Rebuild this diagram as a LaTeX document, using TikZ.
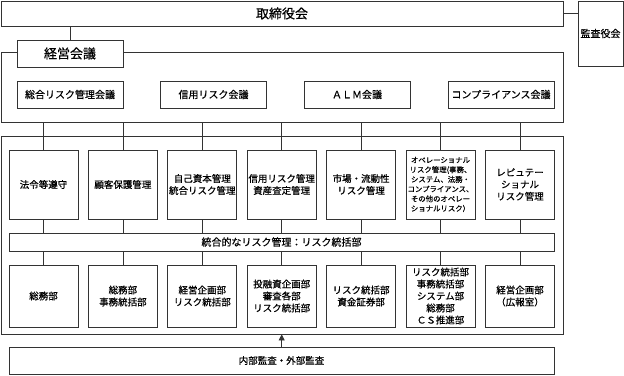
\documentclass[tikz,border=0pt]{standalone}
\usepackage{fontspec}
\setmainfont{Noto Sans CJK JP}[FakeBold=0.6]
\usetikzlibrary{arrows.meta}
\begin{document}
\begin{tikzpicture}[x=1pt,y=-1pt,
  ln/.style={draw=black!80,line width=0.8pt},
  bx/.style={ln,fill=white,inner sep=0pt,align=center,font=\fontsize{9.5}{12}\selectfont},
  frm/.style={ln,inner sep=0pt,minimum width=562pt},
  meet/.style={bx,minimum width=106pt,minimum height=27pt,font=\fontsize{10}{12}\selectfont},
  topbox/.style={bx,minimum width=69pt,minimum height=69pt},
  botbox/.style={bx,minimum width=69pt,minimum height=62pt},
  wide/.style={bx,minimum width=545pt,font=\fontsize{10}{12}\selectfont},
]
\useasboundingbox (0,0) rectangle (624,375);
% top level
\node[bx,minimum width=562pt,minimum height=25pt,font=\fontsize{13}{15}\selectfont] (board) at (282,13.5) {取締役会};
\node[bx,minimum width=45pt,minimum height=65pt,font=\fontsize{10}{12}\selectfont] (kansa) at (600.5,33.5) {監査役会};
\draw[ln] (board.east) -- (kansa.west |- board.east);
% frames
\node[frm,minimum height=70pt] (frame1) at (282,87) {};
\node[frm,minimum height=198pt] (frame2) at (282,235) {};
\node[bx,minimum width=106pt,minimum height=27pt,font=\fontsize{13}{15}\selectfont] (keiei) at (70,53.5) {経営会議};
\draw[ln] (board.south -| keiei) -- (keiei.north);
% meetings
\node[meet] (m1) at (70,94.5) {総合リスク管理会議};
\node[meet] (m2) at (213.5,94.5) {信用リスク会議};
\node[meet] (m3) at (357,94.5) {ＡＬＭ会議};
\node[meet] (m4) at (501,94.5) {コンプライアンス会議};
% top boxes
\node[topbox] (t1) at (43.5,184.5) {法令等遵守};
\node[topbox] (t2) at (122.9,184.5) {顧客保護管理};
\node[topbox] (t3) at (202.3,184.5) {自己資本管理\\統合リスク管理};
\node[topbox] (t4) at (281.7,184.5) {信用リスク管理\\資産査定管理};
\node[topbox] (t5) at (361.1,184.5) {市場・流動性\\リスク管理};
\node[topbox,font=\fontsize{7.4}{9.7}\selectfont] (t6) at (440.5,184.5) {オペレーショナル\\リスク管理(事務、\\システム、法務・\\コンプライアンス、\\その他のオペレー\\ショナルリスク）};
\node[topbox] (t7) at (520,184.5) {レピュテー\\ショナル\\リスク管理};
% bar
\node[wide,minimum height=18pt] (bar) at (281.5,242) {統合的なリスク管理：リスク統括部};
% bottom boxes
\node[botbox] (b1) at (43.5,296) {総務部};
\node[botbox] (b2) at (122.9,296) {総務部\\事務統括部};
\node[botbox] (b3) at (202.3,296) {経営企画部\\リスク統括部};
\node[botbox] (b4) at (281.7,296) {投融資企画部\\審査各部\\リスク統括部};
\node[botbox] (b5) at (361.1,296) {リスク統括部\\資金証券部};
\node[botbox] (b6) at (440.5,296) {リスク統括部\\事務統括部\\システム部\\総務部\\ＣＳ推進部};
\node[botbox] (b7) at (520,296) {経営企画部\\（広報室）};
% connectors
\foreach \i in {1,...,7}{
  \draw[ln] (frame1.south -| t\i) -- (frame2.north -| t\i);
  \draw[ln] (frame2.north -| t\i) -- (t\i.north);
  \draw[ln] (t\i.south) -- (bar.north -| t\i);
  \draw[ln] (bar.south -| b\i) -- (b\i.north);
}
% audit
\node[wide,minimum height=27pt,font=\fontsize{9.5}{12}\selectfont] (audit) at (281.5,360.5) {内部監査・外部監査};
\draw[ln,-{Triangle[length=6pt,width=6pt]}] (audit.north -| b4) -- (frame2.south -| b4);
\end{tikzpicture}
\end{document}
